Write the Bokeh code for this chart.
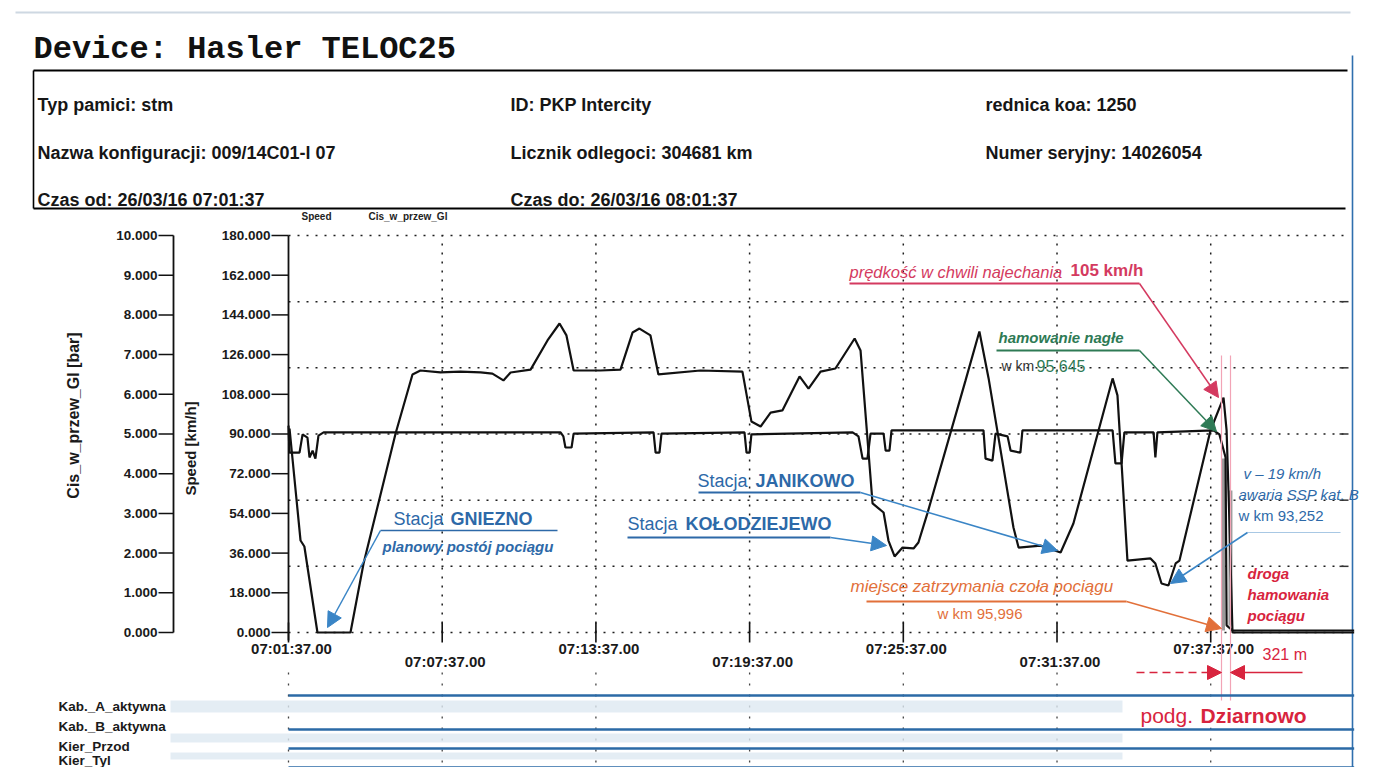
import math
from bokeh.plotting import figure
from bokeh.models import Range1d, Arrow, NormalHead
from bokeh.core.properties import value
from bokeh.embed import file_html
from bokeh.resources import INLINE

# ---------------- data ----------------
# time in minutes after 07:01:37, speed in km/h
speed_t = [0.04, 0.47, 0.62, 1.13, 2.42, 2.93, 4.18, 4.84, 5.15, 5.93, 6.71, 7.50, 7.96, 8.39, 8.67,
           9.45, 10.11, 10.58, 10.85, 11.13, 12.18, 12.96, 13.43, 13.70, 14.13, 14.44, 16.08, 17.72,
           18.07, 18.43, 18.82, 19.28, 19.95, 20.30, 20.77, 21.35, 22.10, 22.33, 22.80, 23.23, 23.42,
           23.66, 23.97, 24.40, 24.59, 24.94, 26.43, 26.97, 27.33, 28.30, 28.50, 29.36, 30.14, 30.64,
           32.17, 32.36, 32.75, 33.65, 33.84, 34.08, 34.35, 34.63, 34.78, 35.99, 36.50, 36.62, 36.73,
           36.85, 41.60]
speed_v = [92.5, 41.7, 39.0, 0.0, 0.0, 31.3, 90.2, 117.0, 118.8, 117.9, 118.3, 117.9, 117.4, 114.3, 117.9,
           119.2, 132.4, 140.1, 134.7, 118.8, 118.8, 119.2, 136.0, 137.8, 134.7, 117.0, 118.8, 118.3,
           95.7, 93.4, 99.7, 100.7, 116.1, 110.6, 118.3, 119.7, 133.3, 127.9, 58.5, 54.4, 41.7,
           34.5, 38.5, 38.1, 40.8, 54.0, 114.3, 136.5, 115.2, 47.6, 38.5, 39.4, 36.3, 49.4,
           115.2, 107.5, 32.6, 33.6, 31.3, 22.2, 21.3, 31.3, 32.6, 91.6, 106.5, 91.6, 50.8,
           0.0, 0.0]

# brake pipe pressure Cis_w_przew_Gl in bar
press_t = [0.00, 0.04, 0.43, 0.55, 0.74, 0.82, 0.94, 1.05, 1.17, 1.37, 10.62, 10.73, 10.81, 11.05, 11.13,
           14.25, 14.33, 14.48, 14.56, 17.80, 17.88, 18.00, 18.07, 22.02, 22.25, 22.41, 22.60, 22.72,
           23.23, 23.31, 23.46, 23.54, 27.13, 27.21, 27.48, 27.60, 28.07, 28.19, 28.57, 28.65,
           32.17, 32.28, 32.52, 32.63, 33.77, 33.84, 33.92, 36.11, 36.34, 36.58, 36.62, 36.85, 41.60]
press_bar = [5.21, 4.53, 4.53, 4.99, 4.91, 4.41, 4.58, 4.38, 4.96, 5.04, 5.04, 4.94, 4.66, 4.66, 5.01,
             5.04, 4.53, 4.53, 5.01, 5.04, 4.53, 4.53, 4.99, 5.04, 4.94, 4.38, 4.38, 5.01,
             5.01, 4.58, 4.58, 5.09, 5.09, 4.38, 4.33, 5.01, 4.94, 4.58, 4.53, 5.09,
             5.09, 4.26, 4.26, 5.04, 5.04, 4.41, 5.04, 5.09, 4.99, 4.41, 0.18, 0.05, 0.05]

# scattered samples during the emergency braking
brake_t = [36.48, 36.77]
brake_top = [78.9, 64.4]
brake_bot = [0.9, 3.2]

time_ticks = [0, 6, 12, 18, 24, 30, 36]
time_tick_labels = ["07:01:37.00", "07:07:37.00", "07:13:37.00", "07:19:37.00",
                    "07:25:37.00", "07:31:37.00", "07:37:37.00"]
speed_ticks = [0, 18, 36, 54, 72, 90, 108, 126, 144, 162, 180]
speed_tick_labels = ["0.000", "18.000", "36.000", "54.000", "72.000", "90.000", "108.000",
                     "126.000", "144.000", "162.000", "180.000"]
press_ticks = [0, 1, 2, 3, 4, 5, 6, 7, 8, 9, 10]
press_tick_labels = ["0.000", "1.000", "2.000", "3.000", "4.000", "5.000", "6.000", "7.000",
                     "8.000", "9.000", "10.000"]
speed_grid = [0, 30, 60, 90, 120, 150, 180]

track_names = ["Kab._A_aktywna", "Kab._B_aktywna", "Kier_Przod", "Kier_Tyl"]
track_t = [0.0, 41.6]

header_rows = [["Typ pamici: stm", "ID: PKP Intercity", "rednica koa: 1250"],
               ["Nazwa konfiguracji: 009/14C01-l 07", "Licznik odlegoci: 304681 km", "Numer seryjny: 14026054"],
               ["Czas od: 26/03/16 07:01:37", "Czas do: 26/03/16 08:01:37", ""]]

# ---------------- layout helpers (reference pixels -> data) ----------------
W, H = 1370, 767
PX0, PXM = 288.0, 25.617      # x pixel of 07:01:37, pixels per minute
PY0, PYU = 632.0, 2.20556     # y pixel of 0 km/h, pixels per km/h
BAR = 18.0                    # 1 bar <-> 18 km/h on the chart


def tx(px):
    return (px - PX0) / PXM


def sy(py):
    return (PY0 - py) / PYU


p = figure(width=W, height=H, title=None,
           x_range=Range1d(tx(0), tx(W)), y_range=Range1d(sy(H), sy(0)),
           min_border=0, output_backend="svg", toolbar_location=None,
           x_axis_location=None, y_axis_location=None,
           background_fill_color="white", border_fill_color="white")
p.outline_line_color = None
p.grid.visible = False
p.extra_y_ranges = {"bar": Range1d(sy(H) / BAR, sy(0) / BAR)}

FONT = "Liberation Sans"


def T(xp, yp, s, size, color="#111111", style="normal", align="left", font=FONT, angle=0.0):
    p.text(x=[tx(xp)], y=[sy(yp)], text=[s], text_font=value(font), text_font_size=f"{size}px",
           text_font_style=style, text_color=color, text_align=align, text_baseline="middle",
           angle=angle)


def L(pts, color="#000000", width=1.5, dash="solid", alpha=1.0):
    p.line([tx(a) for a, b in pts], [sy(b) for a, b in pts], line_color=color,
           line_width=width, line_dash=dash, line_alpha=alpha)


def A(x0, y0, x1, y1, color, width=1.5, size=15, dash="solid"):
    p.add_layout(Arrow(end=NormalHead(size=size, fill_color=color, line_color=color),
                       x_start=tx(x0), y_start=sy(y0), x_end=tx(x1), y_end=sy(y1),
                       line_color=color, line_width=width, line_dash=dash))


# ---------------- header ----------------
L([(15, 12), (1350, 12)], color="#b9c7d6", width=2, alpha=0.7)
T(33, 49, "Device: Hasler TELOC25", 32, color="#111111", style="bold", font="Liberation Mono")
L([(33, 70), (1347, 70)], width=2.2)
L([(33, 208), (1345, 208)], width=2.2)
L([(33, 70), (33, 208)], width=1.6)
row_y = [104, 152, 199]
col_x = [37, 510, 985]
for r, row in enumerate(header_rows):
    for c, s in enumerate(row):
        if s:
            T(col_x[c], row_y[r], s, 18, color="#161616", style="bold")
T(301, 216, "Speed", 10, color="#222222", style="bold")
T(368, 216, "Cis_w_przew_Gl", 10, color="#222222", style="bold")

# right blue border of the pasted overlay
L([(1352, 55), (1352, 775)], color="#2f6fae", width=1.6)

# ---------------- grid ----------------
n = len(speed_grid)
p.segment(x0=[0] * n, y0=speed_grid, x1=[tx(1346)] * n, y1=speed_grid,
          line_color="#1e1e1e", line_width=1.5, line_dash="2 7")
rg = speed_grid[1:-1]
p.segment(x0=[tx(1339)] * len(rg), y0=rg, x1=[tx(1348)] * len(rg), y1=rg,
          line_color="#333333", line_width=1.5)
vt = time_ticks[1:]
p.segment(x0=vt, y0=[0] * len(vt), x1=vt, y1=[180] * len(vt),
          line_color="#1e1e1e", line_width=1.5, line_dash="2 7")
p.segment(x0=time_ticks, y0=[sy(672)] * len(time_ticks), x1=time_ticks, y1=[sy(775)] * len(time_ticks),
          line_color="#444444", line_width=1.3, line_dash="2 9")

# ---------------- axes drawn from tick lists ----------------
# speed axis
p.segment(x0=[0], y0=[sy(640)], x1=[0], y1=[180], line_color="#111111", line_width=1.8)
ns = len(speed_ticks)
p.segment(x0=[tx(271)] * ns, y0=speed_ticks, x1=[0] * ns, y1=speed_ticks,
          line_color="#111111", line_width=1.5)
p.text(x=[tx(270)] * ns, y=speed_ticks, text=speed_tick_labels, text_font=value(FONT),
       text_font_size="13.5px", text_font_style="bold", text_color="#1a1a1a",
       text_align="right", text_baseline="middle")
T(190, 448, "Speed [km/h]", 15, color="#1a1a1a", style="bold", align="center", angle=math.pi / 2)

# pressure axis
xp_axis = tx(173)
npr = len(press_ticks)
p.segment(x0=[xp_axis], y0=[0], x1=[xp_axis], y1=[10], line_color="#111111", line_width=1.8,
          y_range_name="bar")
p.segment(x0=[tx(158)] * npr, y0=press_ticks, x1=[xp_axis] * npr, y1=press_ticks,
          line_color="#111111", line_width=1.5, y_range_name="bar")
p.text(x=[tx(157)] * npr, y=press_ticks, text=press_tick_labels, text_font=value(FONT),
       text_font_size="13.5px", text_font_style="bold", text_color="#1a1a1a",
       text_align="right", text_baseline="middle", y_range_name="bar")
T(73, 415, "Cis_w_przew_Gl [bar]", 16, color="#1a1a1a", style="bold", align="center", angle=math.pi / 2)

# time axis
nt = len(time_ticks)
p.segment(x0=time_ticks, y0=[sy(642)] * nt, x1=time_ticks, y1=[sy(622)] * nt,
          line_color="#111111", line_width=1.6)
lab_y = [sy(648) if i % 2 == 0 else sy(661) for i in range(nt)]
p.text(x=[m + 3 / PXM for m in time_ticks], y=lab_y, text=time_tick_labels, text_font=value(FONT),
       text_font_size="15px", text_font_style="bold", text_color="#1a1a1a",
       text_align="center", text_baseline="middle")

# ---------------- series ----------------
p.segment(x0=brake_t, y0=brake_bot, x1=brake_t, y1=brake_top, line_color="#9a9a9a", line_width=4)
p.line(press_t, press_bar, line_color="#111111", line_width=2.2, y_range_name="bar")
p.line(speed_t, speed_v, line_color="#111111", line_width=2.2)

# ---------------- annotations ----------------
PINK = "#d43a60"
GREEN = "#2e7a55"
BLUE_T = "#2d69a8"
BLUE_A = "#3a85c6"
ORANGE = "#e2703a"
RED = "#d8243e"

# braking distance markers
L([(1221, 355), (1221, 700)], color="#f2a4b6", width=1.2)
L([(1230, 355), (1230, 700)], color="#f2a4b6", width=1.2)

# speed at collision
T(849, 271, "prędkość w chwili najechania", 16.5, color=PINK, style="italic")
T(1070, 270, "105 km/h", 17, color=PINK, style="bold")
L([(849, 283), (1139, 283)], color=PINK, width=1.8)
A(1139, 283, 1218, 397, PINK)

# emergency braking
T(998, 337, "hamowanie nagłe", 15, color=GREEN, style="bold italic")
L([(996, 350), (1139, 350)], color=GREEN, width=1.8)
A(1139, 350, 1216, 431, GREEN)
T(1001, 365, "w km", 14, color="#333333")
T(1036, 365, "95,645", 16, color=GREEN)

# stations
T(393, 518, "Stacja", 18, color=BLUE_T)
T(450, 518, "GNIEZNO", 18, color=BLUE_T, style="bold")
T(382, 546, "planowy postój pociągu", 15, color=BLUE_T, style="bold italic")
L([(557, 530), (380, 530)], color=BLUE_T, width=1.5)
A(380, 530, 327, 627, BLUE_A)

T(697, 480, "Stacja", 18, color=BLUE_T)
T(755, 480, "JANIKOWO", 18, color=BLUE_T, style="bold")
L([(698, 492), (860, 492)], color=BLUE_T, width=1.8)
A(860, 492, 1057, 550, BLUE_A)

T(627, 523, "Stacja", 18, color=BLUE_T)
T(685, 523, "KOŁODZIEJEWO", 18, color=BLUE_T, style="bold")
L([(627, 537), (830, 537)], color=BLUE_T, width=1.8)
A(830, 537, 886, 545, BLUE_A)

# SSP failure
T(1243, 473, "v – 19 km/h", 15, color=BLUE_T, style="italic")
T(1238, 494, "awaria SSP kat. B", 15, color=BLUE_T, style="italic")
T(1238, 515, "w km 93,252", 15, color=BLUE_T)
L([(1247, 532), (1340, 532)], color="#a8c8e4", width=1.2)
A(1247, 532, 1170, 583, BLUE_A)

# stop place
T(850, 586, "miejsce zatrzymania czoła pociągu", 17, color=ORANGE, style="italic")
T(937, 613, "w km 95,996", 15, color=ORANGE)
L([(866, 601), (1126, 601)], color=ORANGE, width=1.8)
A(1126, 601, 1221, 628, ORANGE)

# braking distance
T(1247, 573, "droga", 15, color=RED, style="bold italic")
T(1247, 594, "hamowania", 15, color=RED, style="bold italic")
T(1247, 615, "pociągu", 15, color=RED, style="bold italic")
T(1262, 654, "321 m", 16, color=RED)
A(1136, 672, 1221, 672, RED, width=1.4, size=14, dash="8 5")
A(1302, 672, 1230, 672, RED, width=1.4, size=14)

# ---------------- digital tracks ----------------
band_y = [(700, 712), (733, 742), (752, 759)]
p.quad(left=[tx(170)] * 3, right=[tx(1122)] * 3,
       top=[sy(a) for a, b in band_y], bottom=[sy(b) for a, b in band_y],
       fill_color="#dde8f1", fill_alpha=0.8, line_color=None)
lane_y = [695, 729, 748, 767]
for i, name in enumerate(track_names):
    p.line(track_t, [sy(lane_y[i])] * len(track_t), line_color="#2b6aa6", line_width=2.6)
label_y = [706, 726, 746, 760]
for i, name in enumerate(track_names):
    T(58, label_y[i], name, 13.5, color="#1a1a1a", style="bold")

# podg. Dziarnowo
p.quad(left=[tx(1125)], right=[tx(1348)], top=[sy(701)], bottom=[sy(727)],
       fill_color="white", line_color=None)
T(1140, 715, "podg.", 21, color=RED)
T(1200, 715, "Dziarnowo", 21, color=RED, style="bold")

open("out.html", "w").write(file_html(p, INLINE))
